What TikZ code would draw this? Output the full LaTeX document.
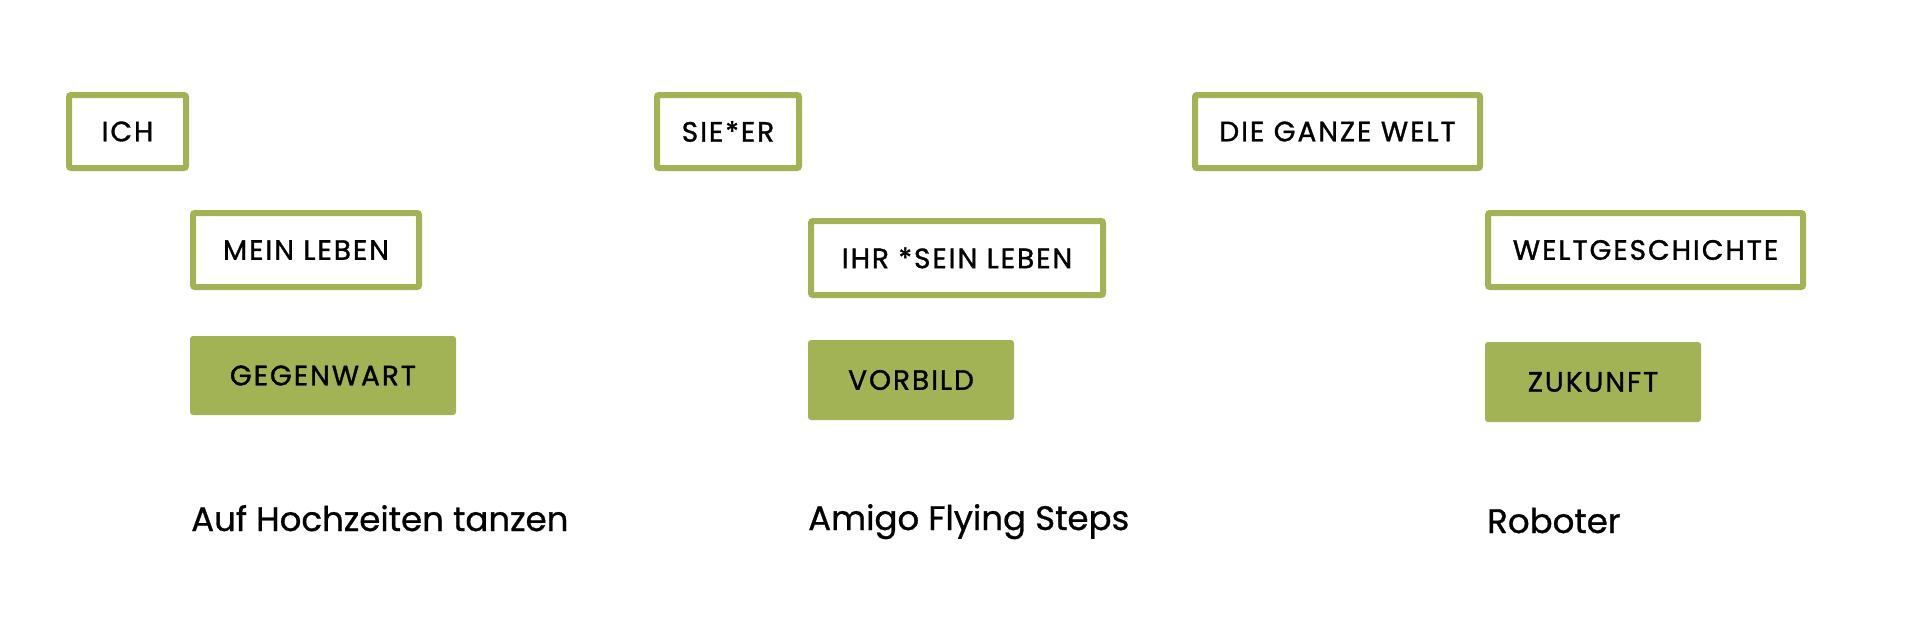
\documentclass[tikz,border=0pt]{standalone}
\usepackage{fontspec}
\setmainfont[FakeBold=0.8]{Poppins}
\newfontfamily\capsfont[LetterSpace=7,FakeBold=1.2]{Poppins}
\definecolor{grn}{RGB}{161,179,85}
\begin{document}
\begin{tikzpicture}[x=1pt,y=-1pt,
  outlinebox/.style={draw=grn, line width=6pt, rounded corners=2pt, inner sep=0pt,
    text=black, font=\capsfont\fontsize{28}{30}\selectfont},
  filledbox/.style={fill=grn, rounded corners=3pt, inner sep=0pt,
    text=black, font=\capsfont\fontsize{28}{30}\selectfont},
  titletext/.style={anchor=base west, inner sep=0pt, text=black,
    font=\fontsize{34}{40}\selectfont}]
\useasboundingbox (0,0) rectangle (1908,640);
% column 1
\node[outlinebox, minimum width=117pt, minimum height=73pt] (ich) at (127.5,131.5) {ICH};
\node[outlinebox, minimum width=226pt, minimum height=74pt] (leben) at (306,250) {MEIN LEBEN};
\node[filledbox, minimum width=266pt, minimum height=79pt] (gegenwart) at (323,375.5) {GEGENWART};
\node[titletext] (t1) at (191,531) {Auf Hochzeiten tanzen};
% column 2
\node[outlinebox, minimum width=142pt, minimum height=73pt] (sie) at (728,131.5) {SIE*ER};
\node[outlinebox, minimum width=292pt, minimum height=74pt] (ihr) at (957,258) {IHR *SEIN LEBEN};
\node[filledbox, minimum width=206pt, minimum height=80pt] (vorbild) at (911,380) {VORBILD};
\node[titletext] (t2) at (808,530) {Amigo Flying Steps};
% column 3
\node[outlinebox, minimum width=285pt, minimum height=73pt] (welt) at (1337.5,131.5) {DIE GANZE WELT};
\node[outlinebox, minimum width=315pt, minimum height=74pt] (geschichte) at (1645.5,250) {WELTGESCHICHTE};
\node[filledbox, minimum width=216pt, minimum height=80pt] (zukunft) at (1593,382) {ZUKUNFT};
\node[titletext] (t3) at (1487,533) {Roboter};
\end{tikzpicture}
\end{document}
